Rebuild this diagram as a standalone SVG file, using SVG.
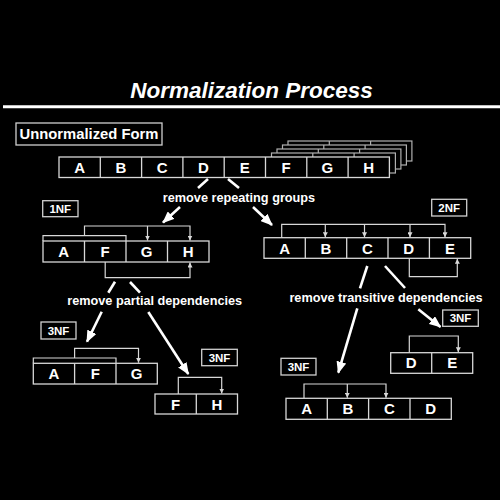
<svg xmlns="http://www.w3.org/2000/svg" width="500" height="500" viewBox="0 0 500 500">
<style>
text{font-family:"Liberation Sans",Arial,sans-serif;font-weight:bold;fill:#fff;text-anchor:middle}
.cell{fill:#000;stroke:#d8d8d8;stroke-width:1.3}
.stack{fill:#000;stroke:#b0b0b0;stroke-width:1.2}
.ct{font-size:15px}
.lbl{fill:#000;stroke:#d0d0d0;stroke-width:1.3}
.lt{font-size:11.5px}
.dep{fill:none;stroke:#d8d8d8;stroke-width:1.2}
.big{fill:none;stroke:#fff;stroke-width:2.6}
.cap{font-size:12.7px}
</style>
<defs>
<marker id="big" markerUnits="userSpaceOnUse" markerWidth="12" markerHeight="10" refX="11" refY="5" orient="auto"><path d="M0,0 L12,5 L0,10 z" fill="#fff"/></marker>
<marker id="sm" markerUnits="userSpaceOnUse" markerWidth="5" markerHeight="5" refX="5" refY="2.5" orient="auto"><path d="M0,0 L5,2.5 L0,5 z" fill="#d8d8d8"/></marker>
</defs>
<rect width="500" height="500" fill="#000"/>
<text x="251.5" y="97.7" font-size="22.5" font-style="italic">Normalization Process</text>
<line x1="3" y1="106.7" x2="500" y2="106.7" stroke="#fff" stroke-width="3"/>

<g id="unnormalized-label"><rect class="lbl" x="16" y="123" width="146" height="22"/><text x="89" y="139" font-size="14.8">Unnormalized Form</text></g>

<g id="unnormalized-row">
<g class="stack-layer"><rect class="stack" x="288" y="141" width="123.9" height="20"/><path class="stack" d="M329.3,141v20M370.6,141v20"/></g>
<g class="stack-layer"><rect class="stack" x="282.5" y="145" width="123.9" height="20"/><path class="stack" d="M323.8,145v20M365.1,145v20"/></g>
<g class="stack-layer"><rect class="stack" x="277" y="149" width="123.9" height="20"/><path class="stack" d="M318.3,149v20M359.6,149v20"/></g>
<g class="stack-layer"><rect class="stack" x="271.5" y="153" width="123.9" height="20"/><path class="stack" d="M312.8,153v20M354.1,153v20"/></g>
<rect class="cell" x="59" y="157" width="330.4" height="20.5"/>
<path class="cell" d="M100.3,157v20.5M141.6,157v20.5M182.9,157v20.5M224.2,157v20.5M265.5,157v20.5M306.8,157v20.5M348.1,157v20.5"/>
<text class="ct" x="79.6" y="172.8">A</text><text class="ct" x="120.9" y="172.8">B</text><text class="ct" x="162.2" y="172.8">C</text><text class="ct" x="203.5" y="172.8">D</text><text class="ct" x="244.8" y="172.8">E</text><text class="ct" x="286.1" y="172.8">F</text><text class="ct" x="327.4" y="172.8">G</text><text class="ct" x="368.7" y="172.8">H</text>
</g>

<g id="nf1-label"><rect class="lbl" x="42.7" y="200.7" width="35.3" height="16"/><text class="lt" x="60.3" y="212.8">1NF</text></g>
<g id="nf1-row">
<rect class="cell" x="43" y="241" width="166" height="21"/>
<path class="cell" d="M84.5,241v21M126,241v21M167.5,241v21"/>
<text class="ct" x="63.7" y="257">A</text><text class="ct" x="105.2" y="257">F</text><text class="ct" x="146.7" y="257">G</text><text class="ct" x="188.2" y="257">H</text>
</g>

<g id="nf2-label"><rect class="lbl" x="431.7" y="199.3" width="35" height="16.7"/><text class="lt" x="449.2" y="211.8">2NF</text></g>
<g id="nf2-row">
<rect class="cell" x="264" y="237.7" width="206.7" height="20.6"/>
<path class="cell" d="M305.3,237.7v20.6M346.7,237.7v20.6M388,237.7v20.6M429.4,237.7v20.6"/>
<text class="ct" x="284.7" y="253.5">A</text><text class="ct" x="326" y="253.5">B</text><text class="ct" x="367.4" y="253.5">C</text><text class="ct" x="408.7" y="253.5">D</text><text class="ct" x="450" y="253.5">E</text>
</g>

<g id="nf3a-label"><rect class="lbl" x="41" y="322" width="35" height="17"/><text class="lt" x="58.5" y="334.7">3NF</text></g>
<g id="nf3a-row">
<rect class="cell" x="33.3" y="363.3" width="124" height="20.7"/>
<path class="cell" d="M74.6,363.3v20.7M116,363.3v20.7"/>
<text class="ct" x="54" y="379.2">A</text><text class="ct" x="95.3" y="379.2">F</text><text class="ct" x="136.7" y="379.2">G</text>
</g>

<g id="nf3b-label"><rect class="lbl" x="201.7" y="349.3" width="35.6" height="16.4"/><text class="lt" x="219.5" y="361.7">3NF</text></g>
<g id="nf3b-row">
<rect class="cell" x="155" y="394" width="82.5" height="20"/>
<path class="cell" d="M196.3,394v20"/>
<text class="ct" x="175.7" y="409.5">F</text><text class="ct" x="216.9" y="409.5">H</text>
</g>

<g id="nf3c-label"><rect class="lbl" x="442.7" y="310" width="35.6" height="16.3"/><text class="lt" x="460.5" y="322.3">3NF</text></g>
<g id="nf3c-row">
<rect class="cell" x="390.7" y="352.7" width="82" height="20.6"/>
<path class="cell" d="M431.7,352.7v20.6"/>
<text class="ct" x="411.2" y="368.4">D</text><text class="ct" x="452.2" y="368.4">E</text>
</g>

<g id="nf3d-label"><rect class="lbl" x="281" y="358.3" width="35" height="16.7"/><text class="lt" x="298.5" y="370.8">3NF</text></g>
<g id="nf3d-row">
<rect class="cell" x="286" y="398.3" width="165.3" height="21"/>
<path class="cell" d="M327.3,398.3v21M368.6,398.3v21M410,398.3v21"/>
<text class="ct" x="306.7" y="414.3">A</text><text class="ct" x="348" y="414.3">B</text><text class="ct" x="389.3" y="414.3">C</text><text class="ct" x="430.6" y="414.3">D</text>
</g>

<g id="connectors">
<path class="dep" d="M43,241V235.7H126V241"/>
<path class="dep" d="M84.5,235.7V226H190V240.5" marker-end="url(#sm)"/>
<path class="dep" d="M147.5,226V240.5" marker-end="url(#sm)"/>
<path class="dep" d="M105.2,262V277.7H190V262.5" marker-end="url(#sm)"/>

<path class="dep" d="M281.7,237.7V224.3H445V237.2" marker-end="url(#sm)"/>
<path class="dep" d="M325.3,224.3V237.2" marker-end="url(#sm)"/>
<path class="dep" d="M364.5,224.3V237.2" marker-end="url(#sm)"/>
<path class="dep" d="M410,224.3V237.2" marker-end="url(#sm)"/>
<path class="dep" d="M409.3,258.3V276.7H457.3V258.8" marker-end="url(#sm)"/>

<path class="dep" d="M33.3,363.3V358H116V363.3"/>
<path class="dep" d="M74.6,358V348.3H138.5V362.8" marker-end="url(#sm)"/>
<path class="dep" d="M178.3,394V377.3H221.7V393.5" marker-end="url(#sm)"/>
<path class="dep" d="M409.3,352.7V336H458.3V352.2" marker-end="url(#sm)"/>
<path class="dep" d="M304,398.3V384H386V397.8" marker-end="url(#sm)"/>
<path class="dep" d="M347.3,384V397.8" marker-end="url(#sm)"/>

<line class="big" x1="208" y1="179" x2="198" y2="188"/>
<line class="big" x1="180" y1="207" x2="163" y2="222.5" marker-end="url(#big)"/>
<line class="big" x1="228" y1="179" x2="239" y2="188"/>
<line class="big" x1="253" y1="207" x2="272" y2="225" marker-end="url(#big)"/>
<line class="big" x1="115" y1="281.7" x2="108.3" y2="292.7"/>
<line class="big" x1="101.7" y1="311.7" x2="87" y2="341.7" marker-end="url(#big)"/>
<line class="big" x1="130" y1="282" x2="140" y2="292.7"/>
<line class="big" x1="148.3" y1="312" x2="188.3" y2="374" marker-end="url(#big)"/>
<line class="big" x1="367.3" y1="266" x2="360" y2="288.3"/>
<line class="big" x1="357.3" y1="308.3" x2="338.3" y2="372.7" marker-end="url(#big)"/>
<line class="big" x1="385" y1="266" x2="405" y2="288"/>
<line class="big" x1="418.3" y1="309.3" x2="440.5" y2="327" marker-end="url(#big)"/>
<text class="cap" x="239" y="202">remove repeating groups</text>
<text class="cap" x="154.7" y="305">remove partial dependencies</text>
<text class="cap" x="386" y="301.7">remove transitive dependencies</text>
</g>
</svg>
